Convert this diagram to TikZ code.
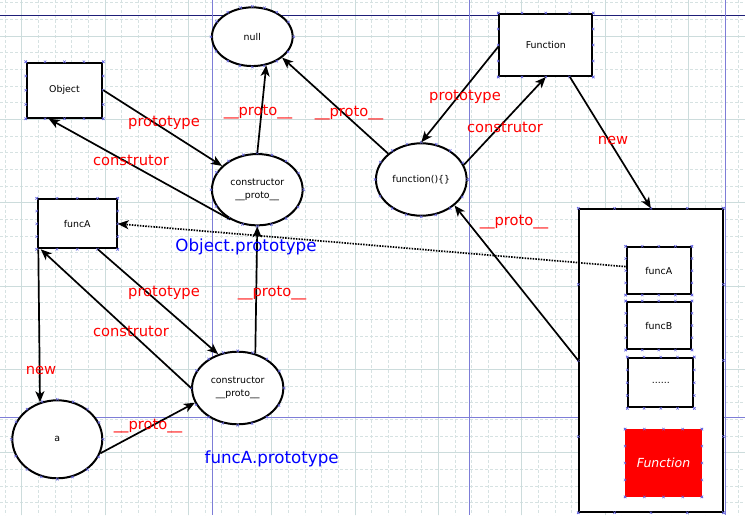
\documentclass[tikz,border=0pt]{standalone}
\usepackage{fontspec}
\setmainfont{DejaVu Sans}
\usetikzlibrary{shapes.geometric,arrows.meta,calc}
\definecolor{gridminor}{RGB}{214,226,226}
\definecolor{gridmajor}{RGB}{204,220,220}
\definecolor{pageblue}{RGB}{125,125,215}
\definecolor{pagenavy}{RGB}{30,30,120}
\definecolor{cpblue}{RGB}{100,100,225}
\begin{document}
\begin{tikzpicture}[x=1pt,y=-1pt,
  box/.style={draw, rectangle, line width=2pt, fill=white, inner sep=0pt,
    font=\fontsize{9.4}{13}\selectfont},
  oval/.style={draw, ellipse, line width=2pt, fill=white, inner sep=0pt,
    align=center, font=\fontsize{9.4}{13}\selectfont},
  lbl/.style={text=red, inner sep=0pt, font=\fontsize{14.7}{16}\selectfont},
  blbl/.style={text=blue, inner sep=0pt, font=\fontsize{16.7}{18}\selectfont},
  arr/.style={line width=1.7pt, -{Stealth[length=11pt,width=9pt,inset=3pt]}},
  dotline/.style={dash pattern=on 1.5pt off 1.2pt},
  cpmark/.style={cpblue, line width=0.5pt}
]
\useasboundingbox (0,0) rectangle (745,515);
\fill[white] (0,0) rectangle (745,515);
% grid
\foreach \i in {0,...,44} {
  \pgfmathsetmacro\xx{5+16.6667*\i}
  \draw[gridminor, line width=0.7pt, dash pattern=on 3pt off 2pt] (\xx,0) -- (\xx,515);
}
\foreach \i in {0,...,30} {
  \pgfmathsetmacro\yy{2.67+16.6667*\i}
  \draw[gridminor, line width=0.7pt, dash pattern=on 3pt off 2pt] (0,\yy) -- (745,\yy);
}
\foreach \i in {0,...,8} {
  \pgfmathsetmacro\xx{21.67+83.333*\i}
  \draw[gridmajor, line width=0.8pt] (\xx,0) -- (\xx,515);
}
\foreach \i in {0,...,5} {
  \pgfmathsetmacro\yy{36+83.333*\i}
  \draw[gridmajor, line width=0.8pt] (0,\yy) -- (745,\yy);
}
% page lines
\draw[pagenavy, line width=1pt] (0,15) -- (745,15);
\draw[pageblue, line width=1pt] (0,417.3) -- (745,417.3);
\draw[pageblue, line width=1pt] (212.7,0) -- (212.7,515);
\draw[pageblue, line width=1pt] (469,0) -- (469,515);
\draw[pageblue, line width=1pt] (725,0) -- (725,515);

% nodes
\node[oval, minimum width=80.7pt, minimum height=58.7pt] (null) at (252.3,36.7) {null};
\node[box, minimum width=75.6pt, minimum height=55pt] (Object) at (64.5,90.2) {Object};
\node[oval, minimum width=90.7pt, minimum height=71.3pt] (ctorO) at (257.3,189.7) {constructor\\\_\_proto\_\_};
\node[box, minimum width=79pt, minimum height=49pt] (funcAL) at (77.2,223.8) {funcA};
\node[box, minimum width=93pt, minimum height=62pt] (Function) at (545.8,45) {Function};
\node[oval, minimum width=90.7pt, minimum height=72.4pt] (fn) at (421.3,179.5) {function()\{\}};
\node[box, minimum width=143.2pt, minimum height=302.4pt] (big) at (650.9,360.5) {};
\node[box, minimum width=64.3pt, minimum height=46.7pt] (funcAR) at (658.8,270.7) {funcA};
\node[box, minimum width=64.3pt, minimum height=47pt] (funcB) at (658.8,325.5) {funcB};
\node[box, minimum width=65pt, minimum height=49.3pt] (dots) at (660.8,382.7) {......};
\node[fill=red, minimum width=76.4pt, minimum height=67.4pt, inner sep=0pt, text=white,
  font=\fontsize{12.5}{14}\selectfont\itshape] (FnRed) at (663.5,463) {Function};
\node[oval, minimum width=91.3pt, minimum height=72.6pt] (ctorA) at (237.7,388) {constructor\\\_\_proto\_\_};
\node[oval, minimum width=90pt, minimum height=78pt] (a) at (57.3,439.3) {a};

% connection-point marks
\foreach \n in {Object,funcAL,Function,big,funcAR,funcB,dots,FnRed} {
  \foreach \f in {0,0.25,0.5,0.75,1} {
    \draw[cpmark] ($(\n.north west)!\f!(\n.north east)$) +(-1.2,-1.2) -- +(1.2,1.2) +(-1.2,1.2) -- +(1.2,-1.2);
    \draw[cpmark] ($(\n.south west)!\f!(\n.south east)$) +(-1.2,-1.2) -- +(1.2,1.2) +(-1.2,1.2) -- +(1.2,-1.2);
    \draw[cpmark] ($(\n.north west)!\f!(\n.south west)$) +(-1.2,-1.2) -- +(1.2,1.2) +(-1.2,1.2) -- +(1.2,-1.2);
    \draw[cpmark] ($(\n.north east)!\f!(\n.south east)$) +(-1.2,-1.2) -- +(1.2,1.2) +(-1.2,1.2) -- +(1.2,-1.2);
  }
}
\foreach \n in {null,ctorO,fn,ctorA,a} {
  \foreach \ang in {0,22.5,...,337.5} {
    \draw[cpmark] (\n.\ang) +(-1.2,-1.2) -- +(1.2,1.2) +(-1.2,1.2) -- +(1.2,-1.2);
  }
}

% connectors
\draw[arr] (Object.east) -- (ctorO.146);
\draw[arr] (ctorO.228) -- (Object.241);
\draw[arr] (ctorO.north) -- (null.-64);
\draw[arr] (fn.142) -- (null.-35);
\draw[arr] (Function.182) -- (fn.north);
\draw[arr] (fn.19) -- (Function.south);
\draw[arr] (Function.-53) -- (big.north);
\draw[arr] (big.west) -- (fn.-38);
\draw[arr, dotline] (funcAR.173) -- (funcAL.east);
\draw[arr] (funcAL.-51.5) -- (ctorA.120);
\draw[arr] (ctorA.west) -- (funcAL.215);
\draw[arr] ([xshift=1.6pt]funcAL.south west) -- (a.115);
\draw[arr] (ctorA.63.5) -- (ctorO.south);
\draw[arr] (a.-18) -- (ctorA.199);

% labels
\node[lbl] (l1) at (164,123) {prototype};
\node[lbl] (l2) at (131,160) {construtor};
\node[lbl] (l3) at (258,112) {\_\_proto\_\_};
\node[lbl] (l4) at (349,113) {\_\_proto\_\_};
\node[lbl] (l5) at (465,97) {prototype};
\node[lbl] (l6) at (505,127) {construtor};
\node[lbl] (l7) at (613,140) {new};
\node[lbl] (l8) at (514,222) {\_\_proto\_\_};
\node[lbl] (l9) at (164,293) {prototype};
\node[lbl] (l10) at (272,293) {\_\_proto\_\_};
\node[lbl] (l11) at (131,331) {construtor};
\node[lbl] (l12) at (41,370) {new};
\node[lbl] (l13) at (148,426) {\_\_proto\_\_};
\node[blbl] (b1) at (246,247) {Object.prototype};
\node[blbl] (b2) at (271.7,459) {funcA.prototype};
\end{tikzpicture}
\end{document}
